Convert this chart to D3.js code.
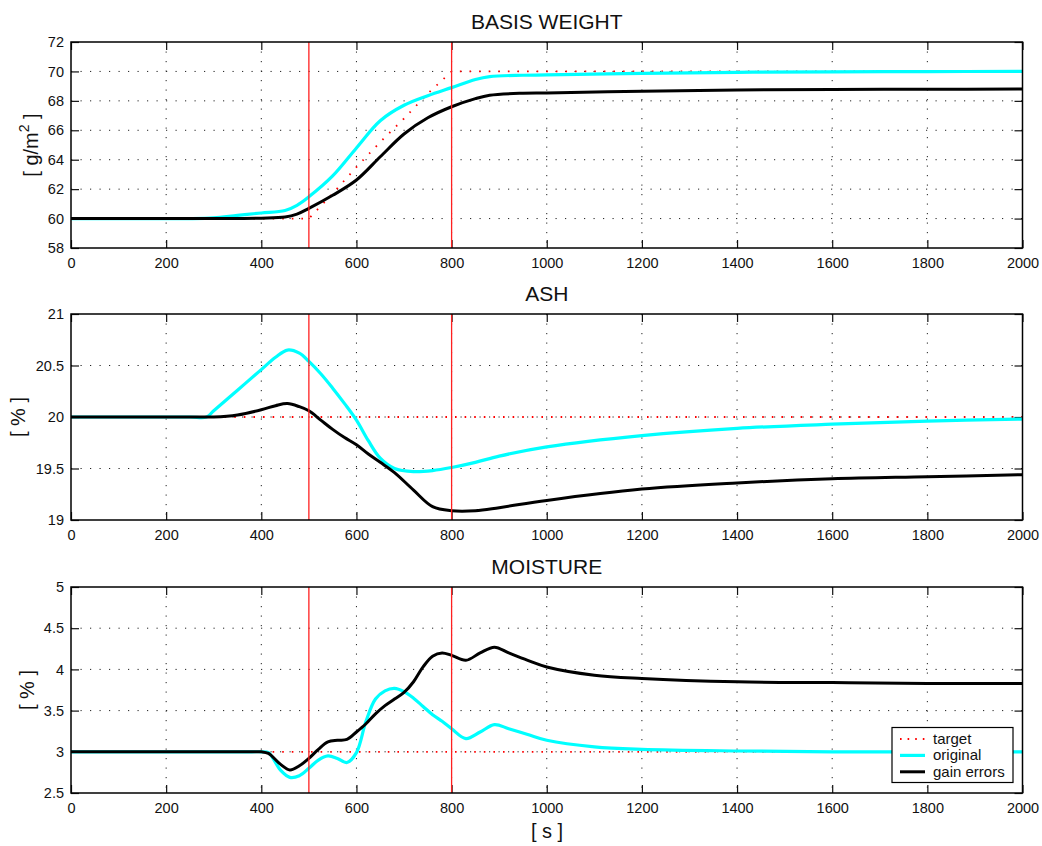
<!DOCTYPE html>
<html>
<head>
<meta charset="utf-8">
<script src="https://cdn.jsdelivr.net/npm/d3@7"></script>
<style>
  body { margin: 0; background: #fff; }
  svg { font-family: "Liberation Sans", Arial, sans-serif; }
</style>
</head>
<body>
<svg id="chart" width="1042" height="846"></svg>
<script>
// ---- data ----
var xTicks = [0, 200, 400, 600, 800, 1000, 1200, 1400, 1600, 1800, 2000];
var markTimes = [500, 800];

// basis weight
var bwTime     = [0, 150, 250, 300, 350, 400, 450, 475, 500, 550, 600, 650, 700, 750, 800, 850, 880, 950, 1000, 1200, 1400, 1600, 1800, 2000];
var bwTarget   = [60, 60, 60, 60, 60, 60, 60, 60, 60, 61.7, 63.5, 65.2, 66.8, 68.5, 70, 70, 70, 70, 70, 70, 70, 70, 70, 70];
var bwOriginal = [60, 60, 60, 60.05, 60.22, 60.38, 60.55, 60.9, 61.48, 62.9, 64.8, 66.65, 67.7, 68.35, 68.9, 69.45, 69.65, 69.74, 69.76, 69.87, 69.94, 69.97, 69.99, 70.0];
var bwGain     = [60, 60, 60, 60, 60.01, 60.03, 60.1, 60.3, 60.69, 61.58, 62.62, 64.2, 65.75, 66.85, 67.6, 68.15, 68.38, 68.52, 68.54, 68.66, 68.74, 68.77, 68.79, 68.8];
var bwTicks    = [58, 60, 62, 64, 66, 68, 70, 72];

// ash
var ashTime     = [0, 150, 250, 285, 300, 350, 400, 430, 455, 480, 500, 525, 550, 575, 600, 625, 650, 680, 720, 760, 800, 850, 900, 1000, 1200, 1400, 1600, 1800, 2000];
var ashTarget   = [20, 20, 20, 20, 20, 20, 20, 20, 20, 20, 20, 20, 20, 20, 20, 20, 20, 20, 20, 20, 20, 20, 20, 20, 20, 20, 20, 20, 20];
var ashOriginal = [20, 20, 20, 20, 20.06, 20.26, 20.46, 20.58, 20.65, 20.62, 20.54, 20.42, 20.28, 20.13, 19.97, 19.77, 19.6, 19.5, 19.47, 19.48, 19.51, 19.56, 19.62, 19.71, 19.82, 19.89, 19.93, 19.96, 19.98];
var ashGain     = [20, 20, 20, 20, 20, 20.02, 20.07, 20.11, 20.13, 20.1, 20.06, 19.97, 19.88, 19.8, 19.73, 19.64, 19.56, 19.46, 19.29, 19.13, 19.09, 19.09, 19.12, 19.19, 19.3, 19.36, 19.4, 19.42, 19.44];
var ashTicks    = [19, 19.5, 20, 20.5, 21];

// moisture
var moTime     = [0, 150, 300, 380, 400, 415, 440, 460, 480, 500, 520, 540, 560, 580, 600, 620, 640, 660, 680, 700, 720, 740, 760, 780, 800, 830, 860, 890, 920, 960, 1000, 1100, 1200, 1400, 1600, 1800, 2000];
var moTarget   = [3, 3, 3, 3, 3, 3, 3, 3, 3, 3, 3, 3, 3, 3, 3, 3, 3, 3, 3, 3, 3, 3, 3, 3, 3, 3, 3, 3, 3, 3, 3, 3, 3, 3, 3, 3, 3];
var moOriginal = [3, 3, 3, 3, 3, 2.99, 2.78, 2.69, 2.71, 2.8, 2.9, 2.95, 2.92, 2.87, 2.99, 3.37, 3.64, 3.74, 3.77, 3.73, 3.65, 3.55, 3.45, 3.37, 3.28, 3.16, 3.24, 3.33, 3.28, 3.21, 3.14, 3.06, 3.03, 3.01, 3.0, 3.0, 3.0];
var moGain     = [3, 3, 3, 3, 3, 2.98, 2.85, 2.78, 2.83, 2.92, 3.03, 3.12, 3.14, 3.15, 3.24, 3.34, 3.46, 3.56, 3.64, 3.72, 3.85, 4.03, 4.16, 4.2, 4.17, 4.11, 4.2, 4.27, 4.2, 4.11, 4.03, 3.93, 3.89, 3.85, 3.84, 3.83, 3.83];
var moTicks    = [2.5, 3, 3.5, 4, 4.5, 5];

var legendNames = ["target", "original", "gain errors"];

// ---- layout ----
var svg = d3.select("#chart");
var left = 71, right = 1022.5;
var x = d3.scaleLinear().domain([0, 2000]).range([left, right]);

var panels = [
  {title: "BASIS WEIGHT", top: 42, bottom: 248, ticks: bwTicks, t: bwTime,
   target: bwTarget, orig: bwOriginal, gain: bwGain, ylab: "g/m", sup: true, labX: 38},
  {title: "ASH", top: 314, bottom: 520, ticks: ashTicks, t: ashTime,
   target: ashTarget, orig: ashOriginal, gain: ashGain, ylab: "%", labX: 25},
  {title: "MOISTURE", top: 587, bottom: 793, ticks: moTicks, t: moTime,
   target: moTarget, orig: moOriginal, gain: moGain, ylab: "%", labX: 33.5}
];

panels.forEach(function(p, i) {
  var y = d3.scaleLinear().domain(d3.extent(p.ticks)).range([p.bottom, p.top]);
  var g = svg.append("g");

  // dotted grid
  g.append("g").selectAll("line").data(xTicks.slice(1, -1)).enter().append("line")
    .attr("x1", function(d) { return x(d); }).attr("x2", function(d) { return x(d); })
    .attr("y1", p.top).attr("y2", p.bottom)
    .attr("stroke", "#222").attr("stroke-width", 1).attr("stroke-dasharray", "1.2,8.3");
  g.append("g").selectAll("line").data(p.ticks.slice(1, -1)).enter().append("line")
    .attr("x1", left).attr("x2", right)
    .attr("y1", function(d) { return y(d); }).attr("y2", function(d) { return y(d); })
    .attr("stroke", "#222").attr("stroke-width", 1).attr("stroke-dasharray", "1.2,8.3");

  // axes with inward ticks
  var fmt = d3.format("");
  g.append("g").attr("transform", "translate(0," + p.bottom + ")")
    .call(d3.axisBottom(x).tickValues(xTicks).tickFormat(fmt).tickSizeInner(-8).tickSizeOuter(0).tickPadding(10));
  g.append("g").attr("transform", "translate(0," + p.top + ")")
    .call(d3.axisTop(x).tickValues(xTicks).tickFormat("").tickSizeInner(-8).tickSizeOuter(0));
  g.append("g").attr("transform", "translate(" + left + ",0)")
    .call(d3.axisLeft(y).tickValues(p.ticks).tickFormat(fmt).tickSizeInner(-8).tickSizeOuter(0).tickPadding(7));
  g.append("g").attr("transform", "translate(" + right + ",0)")
    .call(d3.axisRight(y).tickValues(p.ticks).tickFormat("").tickSizeInner(-8).tickSizeOuter(0));
  g.selectAll(".tick text").attr("font-size", 14.5).attr("fill", "#111")
    .style("font-family", '"Liberation Sans", Arial, sans-serif');
  g.selectAll(".tick line").attr("stroke", "#111").attr("stroke-width", 1.2);
  g.selectAll(".domain").remove();

  // series
  var smooth = d3.line().x(function(d) { return x(d[0]); }).y(function(d) { return y(d[1]); })
    .curve(d3.curveCatmullRom.alpha(0.5));
  var straight = d3.line().x(function(d) { return x(d[0]); }).y(function(d) { return y(d[1]); });
  var pts = function(vals) { return p.t.map(function(t, k) { return [t, vals[k]]; }); };

  g.append("path").attr("d", straight(pts(p.target))).attr("fill", "none")
    .attr("stroke", "#ff0000").attr("stroke-width", 1.8).attr("stroke-dasharray", "1.6,8");
  g.append("path").attr("d", smooth(pts(p.orig))).attr("fill", "none")
    .attr("stroke", "#00ffff").attr("stroke-width", 3.2).attr("stroke-linejoin", "round");
  g.append("path").attr("d", smooth(pts(p.gain))).attr("fill", "none")
    .attr("stroke", "#000").attr("stroke-width", 3).attr("stroke-linejoin", "round");

  // markers at 500 s and 800 s
  g.selectAll(".mark").data(markTimes).enter().append("line")
    .attr("x1", function(d) { return x(d); }).attr("x2", function(d) { return x(d); })
    .attr("y1", p.top).attr("y2", p.bottom)
    .attr("stroke", "#ff2020").attr("stroke-width", 1.3);

  // frame
  g.append("rect").attr("x", left).attr("y", p.top)
    .attr("width", right - left).attr("height", p.bottom - p.top)
    .attr("fill", "none").attr("stroke", "#000").attr("stroke-width", 1.5);

  // title
  svg.append("text").attr("x", (left + right) / 2).attr("y", p.top - 13)
    .attr("text-anchor", "middle").attr("font-size", 21).attr("fill", "#111").text(p.title);

  // y label
  var yl = svg.append("text")
    .attr("transform", "translate(" + p.labX + "," + ((p.top + p.bottom) / 2) + ") rotate(-90)")
    .attr("text-anchor", "middle").attr("font-size", 20).attr("fill", "#111");
  if (p.sup) {
    yl.append("tspan").text("[ g/m");
    yl.append("tspan").attr("font-size", 14).attr("dy", -9).text("2");
    yl.append("tspan").attr("dy", 9).text(" ]");
  } else {
    yl.text("[ " + p.ylab + " ]");
  }

  // legend in the last panel
  if (i === 2) {
    var lg = svg.append("g");
    lg.append("rect").attr("x", 892).attr("y", 727.5).attr("width", 121).attr("height", 55)
      .attr("fill", "#fff").attr("stroke", "#000").attr("stroke-width", 1.2);
    var styles = [
      {c: "#ff0000", w: 1.8, dash: "1.6,6"},
      {c: "#00ffff", w: 3.2, dash: null},
      {c: "#000", w: 3, dash: null}
    ];
    legendNames.forEach(function(name, k) {
      var cy = 739 + k * 16.4;
      lg.append("line").attr("x1", 900).attr("x2", 925).attr("y1", cy).attr("y2", cy)
        .attr("stroke", styles[k].c).attr("stroke-width", styles[k].w)
        .attr("stroke-dasharray", styles[k].dash);
      lg.append("text").attr("x", 933).attr("y", cy + 5).attr("font-size", 15)
        .attr("fill", "#111").text(name);
    });
  }
});

// x label
svg.append("text").attr("x", 547).attr("y", 838).attr("text-anchor", "middle")
  .attr("font-size", 20).attr("fill", "#111").text("[ s ]");
</script>
</body>
</html>
